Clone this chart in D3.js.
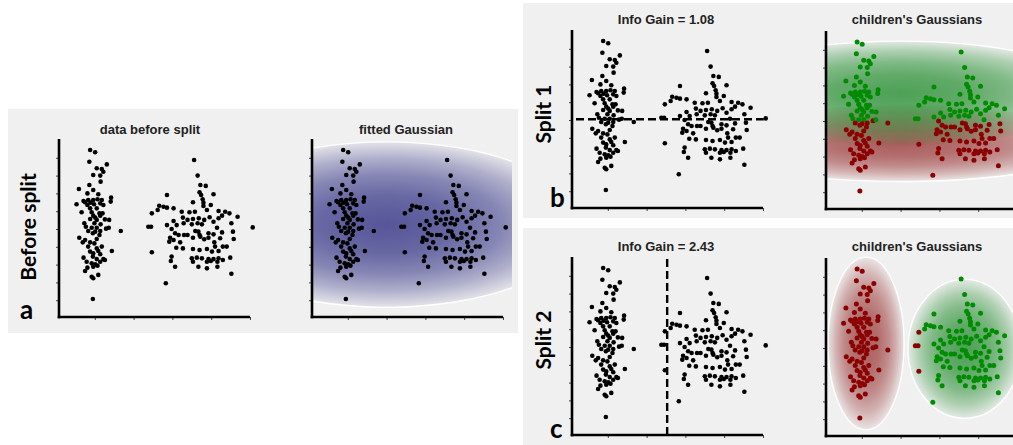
<!DOCTYPE html>
<html><head><meta charset="utf-8">
<script src="https://cdn.jsdelivr.net/npm/d3@7"></script>
<style>
html,body{margin:0;padding:0;background:#fff;}
svg{display:block;}
</style></head>
<body>
<svg id="chart" width="1013" height="445"></svg>
<script>
// ---------- DATA ----------
// left cluster points [x, y]
const leftCluster = [
[0.88,9.44],[1.01,9.31],[0.86,8.78],[1.31,8.63],[1.05,8.41],[1.18,8.37],[1.22,8.22],[0.96,8.03],[1.14,8.00],
[1.15,7.66],[0.86,7.47],[0.59,7.25],[0.96,7.19],[0.81,7.00],[1.09,6.95],[1.42,6.76],[1.41,6.54],[0.71,6.57],
[0.83,6.63],[0.96,6.63],[1.07,6.67],[1.18,6.63],[0.75,6.50],[0.89,6.48],[1.14,6.44],[0.53,6.39],[0.81,6.35],
[0.98,6.39],[1.22,6.35],[0.88,6.16],[1.05,6.16],[0.66,5.94],[0.92,5.94],[1.12,5.88],[0.96,5.75],[1.01,5.64],
[1.14,5.75],[1.20,5.88],[0.88,5.56],[1.05,5.51],[1.26,5.54],[1.37,5.51],[0.73,5.32],[0.99,5.32],[1.15,5.26],
[0.77,5.13],[0.92,5.07],[1.05,5.07],[1.29,5.02],[1.36,5.07],[1.67,4.89],[0.83,4.89],[1.01,4.85],[1.14,4.89],
[0.95,4.76],[1.12,4.66],[0.60,4.51],[0.75,4.38],[1.05,4.44],[0.69,4.25],[0.88,4.25],[0.99,4.19],[0.83,4.01],
[1.05,3.91],[1.18,4.01],[1.44,3.76],[0.88,3.73],[0.96,3.63],[1.09,3.76],[1.14,3.58],[0.71,3.39],[0.95,3.45],
[1.05,3.31],[1.22,3.31],[0.79,3.16],[0.92,3.07],[1.01,3.01],[1.14,3.16],[1.26,3.26],[0.81,2.83],[0.96,2.88],
[1.07,2.94],[0.75,2.64],[1.09,2.42],[0.92,2.32],[0.96,2.23],[0.95,1.07]
];
// right cluster points [x, y]
const rightCluster = [
[3.56,8.88],[3.65,8.00],[3.72,7.47],[3.86,7.42],[3.70,7.06],[3.74,6.91],[4.06,6.95],[2.86,6.91],[3.78,6.67],
[3.80,6.48],[3.53,6.50],[2.66,6.31],[2.77,6.25],[2.62,6.07],[2.86,6.20],[3.03,6.16],[2.47,5.88],[3.24,5.97],
[3.44,5.94],[3.58,5.97],[3.80,6.29],[3.99,6.35],[3.89,6.07],[4.19,6.01],[4.36,5.97],[4.47,5.88],[4.68,5.69],
[3.03,5.45],[3.27,5.64],[3.39,5.51],[3.53,5.56],[3.68,5.60],[3.82,5.51],[3.96,5.66],[4.19,5.60],[4.28,5.75],
[2.38,5.13],[2.45,5.13],[2.86,5.22],[3.11,5.22],[3.29,5.32],[3.50,5.26],[3.65,5.32],[3.76,5.26],[4.06,5.41],
[4.15,5.07],[4.52,5.32],[2.98,5.00],[3.07,4.76],[3.16,4.66],[3.30,4.66],[3.39,4.66],[3.59,4.89],[3.67,4.85],
[3.70,4.66],[3.93,4.76],[4.06,4.70],[4.28,4.81],[4.56,4.85],[5.07,5.09],[2.94,4.51],[3.03,4.38],[3.20,4.25],
[3.53,4.51],[3.72,4.57],[3.82,4.42],[3.93,4.51],[4.08,4.25],[4.23,4.48],[4.58,4.44],[2.92,4.29],[3.10,3.95],
[3.27,3.91],[3.53,3.88],[3.70,3.82],[3.89,3.88],[4.10,4.01],[4.30,4.01],[4.40,4.01],[2.47,3.69],[4.02,3.73],
[4.19,3.76],[2.98,3.45],[3.50,3.35],[3.63,3.39],[3.76,3.35],[3.93,3.31],[4.06,3.31],[4.19,3.35],[4.49,3.39],
[2.96,3.20],[3.53,3.16],[3.89,3.16],[3.99,3.20],[4.16,3.16],[4.30,3.26],[3.07,2.88],[3.67,2.88],[3.89,2.79],
[4.16,2.88],[4.52,2.49],[2.83,1.95]
];
const xTicks = [1,2,3,4,5];
const yTicks = [1,2,3,4,5,6,7,8,9];
const split1Y = 5.04;      // horizontal split (Split 1)
const split2X = 2.53;      // vertical split (Split 2)
const rowLabels = ["Before split","Split 1","Split 2"];
const panelLetters = ["a","b","c"];
const plotTitles = ["data before split","fitted Gaussian","Info Gain = 1.08","children's Gaussians","Info Gain = 2.43","children's Gaussians"];
// Gaussians [cx, cy, rx, ry] in data units
const parentGauss = [2.0, 5.25, 5.0, 4.65];
const split1Red   = [2.0, 3.75, 5.0, 2.15];
const split1Green = [2.0, 6.56, 5.0, 2.93];
const split2Red   = [1.11, 5.25, 0.98, 4.85];
const split2Green = [3.65, 4.95, 1.46, 3.9];

// ---------- DRAWING ----------
const points = leftCluster.concat(rightCluster);
const svg = d3.select("#chart");
const defs = svg.append("defs");
const BG = "#f0f0f0";
const RED = "#8b0000", GREEN = "#008c00";

function makeGrad(id, color, peak){
  const g = defs.append("radialGradient").attr("id", id);
  [[0,1],[0.35,0.88],[0.6,0.68],[0.8,0.42],[0.93,0.2],[1,0.08]].forEach(([o,a])=>{
    g.append("stop").attr("offset", o).attr("stop-color", color).attr("stop-opacity", a*peak);
  });
}
makeGrad("gBlue", "#3a3a8a", 0.85);
makeGrad("gGreen", "#1f8a2a", 0.78);
makeGrad("gRed", "#902424", 0.72);

// panel backgrounds
const boxes = [[8,109,510,224],[523,3,490,215],[523,228,490,217]];
boxes.forEach(b=>svg.append("rect").attr("x",b[0]).attr("y",b[1]).attr("width",b[2]).attr("height",b[3]).attr("fill",BG));

let clipN = 0;
function clipRect(x0, y0, x1, y1){
  const id = "clip"+(clipN++);
  defs.append("clipPath").attr("id", id).append("rect")
    .attr("x", x0).attr("y", y0).attr("width", Math.max(0,x1-x0)).attr("height", Math.max(0,y1-y0));
  return `url(#${id})`;
}
function plot(ax, ay, opt){
  const x = d3.scaleLinear().domain([0,5]).range([ax-3, ax+191]);
  const y = d3.scaleLinear().domain([0,10]).range([ay+1, ay-177]);
  const g = svg.append("g");
  // gaussians
  if (opt.gauss){
    const gg = g.append("g").attr("clip-path", clipRect(ax, opt.clipTop, opt.clipRight, ay));
    opt.gauss.forEach(([p, grad, rim])=>{
      const cx = x(p[0]), cy = y(p[1]), rx = x(p[0]+p[2]) - x(p[0]), ry = y(p[1]) - y(p[1]+p[3]);
      gg.append("ellipse").attr("cx", cx).attr("cy", cy).attr("rx", rx).attr("ry", ry)
        .attr("fill", `url(#${grad})`);
      // white rim (only the outer half when two Gaussians overlap)
      let rimClip = null;
      if (rim === "top") rimClip = clipRect(ax, cy-ry-5, opt.clipRight, cy);
      if (rim === "bottom") rimClip = clipRect(ax, cy, opt.clipRight, cy+ry+5);
      gg.append("ellipse").attr("cx", cx).attr("cy", cy).attr("rx", rx).attr("ry", ry)
        .attr("fill", "none").attr("stroke", "#ffffff").attr("stroke-width", 1.3)
        .attr("clip-path", rimClip);
    });
  }
  // ticks
  g.append("g").attr("transform", `translate(0,${ay})`)
    .call(d3.axisBottom(x).tickValues(xTicks).tickSize(3).tickFormat(""))
    .call(s=>{s.select(".domain").remove(); s.selectAll("line").attr("stroke","#444");});
  g.append("g").attr("transform", `translate(${ax},0)`)
    .call(d3.axisLeft(y).tickValues(yTicks).tickSize(3).tickFormat(""))
    .call(s=>{s.select(".domain").remove(); s.selectAll("line").attr("stroke","#444");});
  // split line
  if (opt.hsplit !== undefined){
    g.append("line").attr("x1", ax+4).attr("x2", x(5.02)).attr("y1", y(opt.hsplit)).attr("y2", y(opt.hsplit))
      .attr("stroke","#000").attr("stroke-width",2.4).attr("stroke-dasharray","8,4");
  }
  if (opt.vsplit !== undefined){
    g.append("line").attr("x1", x(opt.vsplit)).attr("x2", x(opt.vsplit)).attr("y1", ay-176).attr("y2", ay)
      .attr("stroke","#000").attr("stroke-width",2.4).attr("stroke-dasharray","8,4");
  }
  // points
  g.append("g").selectAll("circle").data(points).join("circle")
    .attr("cx", d=>x(d[0])).attr("cy", d=>y(d[1])).attr("r", opt.colorFn ? 2.5 : 2.3)
    .attr("fill", d=> opt.colorFn ? opt.colorFn(d) : "#000");
  // axis lines
  g.append("line").attr("x1", ax).attr("x2", ax).attr("y1", ay-178).attr("y2", ay+1.3)
    .attr("stroke","#000").attr("stroke-width",2.6);
  g.append("line").attr("x1", ax-1.3).attr("x2", ax+191).attr("y1", ay).attr("y2", ay)
    .attr("stroke","#000").attr("stroke-width",2.6);
  // title
  g.append("text").attr("x", opt.titleX).attr("y", opt.titleY).attr("text-anchor","middle")
    .attr("font-family","'Liberation Sans', Arial, sans-serif").attr("font-weight","bold")
    .attr("font-size", 13).attr("fill","#222").text(opt.title);
}

const c1 = d=> d[1] > split1Y ? GREEN : RED;
const c2 = d=> d[0] < split2X ? RED : GREEN;

plot(59, 317, {title: plotTitles[0], titleX:150, titleY:134});
plot(312, 317, {title: plotTitles[1], titleX:406, titleY:134, gauss:[[parentGauss,"gBlue","all"]], clipTop:112, clipRight:512});
plot(572, 208, {title: plotTitles[2], titleX:666, titleY:24, hsplit: split1Y});
plot(826, 209, {title: plotTitles[3], titleX:917, titleY:24, colorFn:c1, gauss:[[split1Red,"gRed","bottom"],[split1Green,"gGreen","top"]], clipTop:5, clipRight:1013});
plot(572, 435, {title: plotTitles[4], titleX:666, titleY:251, vsplit: split2X});
plot(826, 436, {title: plotTitles[5], titleX:917, titleY:251, colorFn:c2, gauss:[[split2Red,"gRed","all"],[split2Green,"gGreen","all"]], clipTop:230, clipRight:1013});

// row labels
const rowPos = [[36, 227],[551, 114],[551, 340]];
rowLabels.forEach((t,i)=>{
  svg.append("text").attr("transform", `translate(${rowPos[i][0]},${rowPos[i][1]}) rotate(-90)`)
    .attr("text-anchor","middle").attr("font-family","Lato, 'Open Sans', sans-serif").attr("font-weight","bold")
    .attr("font-size", 21).attr("fill","#000").text(t);
});
// panel letters
const letterPos = [[20, 319],[550, 207],[550, 438]];
panelLetters.forEach((t,i)=>{
  svg.append("text").attr("x", letterPos[i][0]).attr("y", letterPos[i][1])
    .attr("font-family","Lato, 'Open Sans', sans-serif").attr("font-weight","bold")
    .attr("font-size", 26).attr("fill","#000").text(t);
});
</script>
</body></html>
